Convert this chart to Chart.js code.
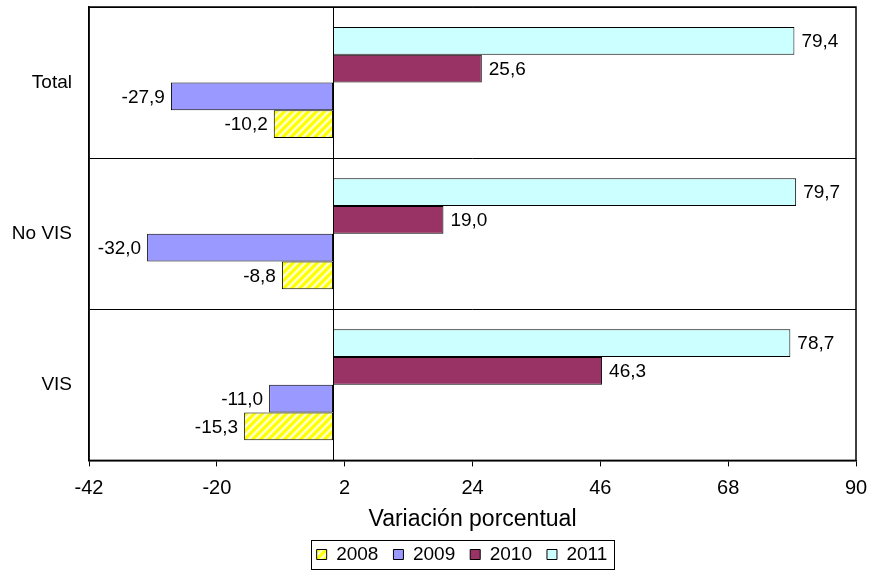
<!DOCTYPE html>
<html>
<head>
<meta charset="utf-8">
<script src="https://cdn.jsdelivr.net/npm/chart.js@4"></script>
<style>
  html, body { margin: 0; padding: 0; background: #fff; }
  #wrap { width: 869px; height: 574px; }
</style>
</head>
<body>
<div id="wrap"><canvas id="chart" width="869" height="574"></canvas></div>
<script>
// categories and series
const categories = ['Total', 'No VIS', 'VIS'];
const years = ['2008', '2009', '2010', '2011'];
const v2008 = [-10.2, -8.8, -15.3];
const v2009 = [-27.9, -32.0, -11.0];
const v2010 = [25.6, 19.0, 46.3];
const v2011 = [79.4, 79.7, 78.7];
const xTicks = [-42, -20, 2, 24, 46, 68, 90];

const FONT = '"Liberation Sans", Arial, sans-serif';

// yellow hatch for 2008
function hatch() {
  const c = document.createElement('canvas');
  c.width = 8; c.height = 8;
  const g = c.getContext('2d');
  g.fillStyle = '#ffff00';
  g.fillRect(0, 0, 8, 8);
  g.strokeStyle = '#ffffcc';
  g.lineWidth = 2.5;
  g.beginPath();
  g.moveTo(-2, 10); g.lineTo(10, -2);
  g.moveTo(-6, 6); g.lineTo(6, -6);
  g.moveTo(2, 14); g.lineTo(14, 2);
  g.stroke();
  return g.createPattern(c, 'repeat');
}

const fmt = (v) => v.toFixed(1).replace('.', ',');

// value labels at the bar ends
const labelPlugin = {
  id: 'labels',
  afterDatasetsDraw(chart) {
    const ctx = chart.ctx;
    ctx.save();
    ctx.font = '19px ' + FONT;
    ctx.fillStyle = '#000';
    ctx.textBaseline = 'middle';
    chart.data.datasets.forEach((ds, i) => {
      chart.getDatasetMeta(i).data.forEach((bar, j) => {
        const v = ds.data[j];
        if (v >= 0) {
          ctx.textAlign = 'left';
          ctx.fillText(fmt(v), bar.x + 7, bar.y + 1);
        } else {
          ctx.textAlign = 'right';
          ctx.fillText(fmt(v), bar.x - 6, bar.y + 1);
        }
      });
    });
    ctx.restore();
  }
};

// frame, zero line, legend border
const framePlugin = {
  id: 'frame',
  afterLayout(chart) {
    // legend sits a little right of the canvas centre
    chart.legend.left += 34;
    chart.legend.right += 34;
  },
  beforeDatasetsDraw(chart) {
    const { ctx, chartArea: a, scales } = chart;
    const x0 = Math.round(scales.x.getPixelForValue(0)) + 0.5;
    ctx.save();
    ctx.strokeStyle = '#000';
    ctx.lineWidth = 1;
    ctx.beginPath();
    ctx.moveTo(x0, a.top);
    ctx.lineTo(x0, a.bottom);
    ctx.stroke();
    ctx.restore();
  },
  afterDraw(chart) {
    const { ctx, chartArea: a } = chart;
    ctx.save();
    ctx.strokeStyle = '#000';
    ctx.lineWidth = 1.5;
    ctx.strokeRect(a.left, a.top, a.right - a.left, a.bottom - a.top);
    const boxes = chart.legend.legendHitBoxes;
    if (boxes && boxes.length) {
      const l = Math.min(...boxes.map(b => b.left)) - 6;
      const r = Math.max(...boxes.map(b => b.left + b.width)) + 6;
      const t = Math.min(...boxes.map(b => b.top)) - 5;
      const btm = Math.max(...boxes.map(b => b.top + b.height)) + 5;
      ctx.lineWidth = 1;
      ctx.strokeRect(Math.round(l) + 0.5, Math.round(t) + 0.5, Math.round(r - l), Math.round(btm - t));
    }
    ctx.restore();
  }
};

const barCommon = {
  borderColor: '#000',
  borderWidth: 1,
  borderSkipped: false,
  categoryPercentage: 0.735,
  barPercentage: 1.0,
};

new Chart(document.getElementById('chart'), {
  type: 'bar',
  data: {
    labels: categories,
    // top-to-bottom within each group: 2011, 2010, 2009, 2008
    datasets: [
      { label: years[3], data: v2011, backgroundColor: '#ccffff', ...barCommon },
      { label: years[2], data: v2010, backgroundColor: '#993366', ...barCommon },
      { label: years[1], data: v2009, backgroundColor: '#9999ff', ...barCommon },
      { label: years[0], data: v2008, backgroundColor: hatch(), ...barCommon },
    ],
  },
  plugins: [labelPlugin, framePlugin],
  options: {
    indexAxis: 'y',
    responsive: false,
    animation: false,
    layout: { padding: { top: 7, right: 13, left: 0, bottom: 0 } },
    plugins: {
      tooltip: { enabled: false },
      legend: {
        position: 'bottom',
        reverse: true,
        labels: {
          boxWidth: 10,
          boxHeight: 10,
          padding: 15,
          color: '#000',
          font: { family: FONT, size: 19 },
        },
      },
    },
    scales: {
      x: {
        min: -42,
        max: 90,
        afterBuildTicks: (s) => { s.ticks = xTicks.map(v => ({ value: v })); },
        afterFit: (s) => { s.paddingLeft = 0; s.paddingRight = 0; },
        grid: { drawOnChartArea: false, drawTicks: true, tickLength: 6, color: '#000' },
        border: { color: '#000', width: 1.5 },
        ticks: {
          color: '#000',
          font: { family: FONT, size: 20 },
          padding: 10,
          maxRotation: 0,
          callback: (v) => String(v),
        },
        title: {
          display: true,
          text: 'Variación porcentual',
          color: '#000',
          font: { family: FONT, size: 23 },
          padding: { top: -5, bottom: -3 },
        },
      },
      y: {
        afterFit: (s) => { s.width = 89; s.paddingTop = 0; s.paddingBottom = 0; },
        grid: { offset: true, drawTicks: false, color: '#000', lineWidth: 1 },
        border: { color: '#000', width: 1.5 },
        ticks: {
          color: '#000',
          font: { family: FONT, size: 19 },
          padding: 17,
        },
      },
    },
  },
});
</script>
</body>
</html>
